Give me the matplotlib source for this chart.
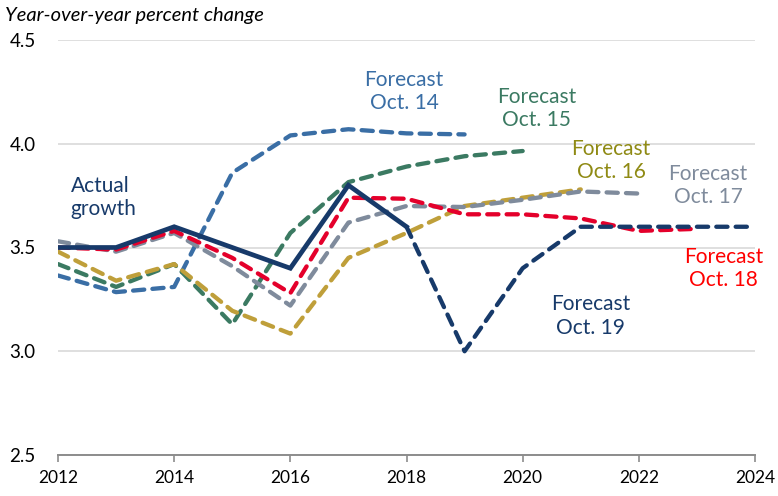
import matplotlib

matplotlib.use("Agg")
import matplotlib.pyplot as plt

matplotlib.rcParams.update(
    {
        "font.family": ["Lato", "DejaVu Sans"],
        "font.size": 11,
    }
)

# data
years_actual = [2012, 2013, 2014, 2015, 2016, 2017, 2018]
actual = [3.50, 3.50, 3.60, 3.50, 3.40, 3.80, 3.60]

years_oct14 = [2012, 2013, 2014, 2015, 2016, 2017, 2018, 2019]
oct14 = [3.365, 3.285, 3.31, 3.86, 4.04, 4.07, 4.05, 4.045]

years_oct15 = [2012, 2013, 2014, 2015, 2016, 2017, 2018, 2019, 2020]
oct15 = [3.42, 3.31, 3.42, 3.13, 3.57, 3.815, 3.89, 3.94, 3.965]

years_oct16 = [2012, 2013, 2014, 2015, 2016, 2017, 2018, 2019, 2020, 2021]
oct16 = [3.48, 3.34, 3.42, 3.195, 3.085, 3.45, 3.57, 3.70, 3.74, 3.78]

years_oct17 = [2012, 2013, 2014, 2015, 2016, 2017, 2018, 2019, 2020, 2021, 2022]
oct17 = [3.53, 3.48, 3.57, 3.41, 3.22, 3.62, 3.70, 3.695, 3.73, 3.77, 3.76]

years_oct18 = [2012, 2013, 2014, 2015, 2016, 2017, 2018, 2019, 2020, 2021, 2022, 2023]
oct18 = [3.50, 3.49, 3.58, 3.45, 3.28, 3.74, 3.735, 3.66, 3.66, 3.64, 3.58, 3.59]

years_oct19 = [2018, 2019, 2020, 2021, 2022, 2023, 2024]
oct19 = [3.60, 3.00, 3.40, 3.60, 3.60, 3.60, 3.60]

x_ticks = [2012, 2014, 2016, 2018, 2020, 2022, 2024]
y_ticks = [2.5, 3.0, 3.5, 4.0, 4.5]

NAVY = "#173a6a"
BLUE = "#3a6ea5"
GREEN = "#3b7a62"
GOLD = "#bf9f3a"
GRAY = "#7f8b9c"
RED = "#e4002b"

fig = plt.figure(figsize=(7.78, 4.96), dpi=100)
ax = fig.add_axes([58 / 778, 1 - 455 / 496, 697 / 778, 415 / 496])

dash = dict(lw=3.1, ls=(0, (2.6, 1.9)), dash_capstyle="round", solid_joinstyle="round")
ax.plot(years_oct14, oct14, color=BLUE, **dash)
ax.plot(years_oct15, oct15, color=GREEN, **dash)
ax.plot(years_oct16, oct16, color=GOLD, **dash)
ax.plot(years_oct17, oct17, color=GRAY, **dash)
ax.plot(years_oct18, oct18, color=RED, **dash)
ax.plot(years_oct19, oct19, color=NAVY, **dash)
ax.plot(years_actual, actual, color=NAVY, lw=3.4, solid_joinstyle="miter")

ax.set_xlim(2012, 2024)
ax.set_ylim(2.5, 4.5)
ax.set_xticks(x_ticks)
ax.set_yticks(y_ticks)
ax.set_yticklabels([f"{v:.1f}" for v in y_ticks])
ax.grid(axis="y", color="#d9d9d9", lw=1.2)
ax.set_axisbelow(True)
for s in ("top", "right", "left"):
    ax.spines[s].set_visible(False)
ax.spines["bottom"].set_color("#8c8c8c")
ax.spines["bottom"].set_linewidth(1.4)
ax.tick_params(axis="y", length=0, pad=16, labelsize=13.5)
ax.tick_params(axis="x", length=5, width=1.2, color="#8c8c8c", pad=6, labelsize=12.5)

fig.text(5 / 778, 1 - 15 / 496, "Year-over-year percent change", style="italic",
         fontsize=14.5, va="center", ha="left")

lab = dict(fontsize=15, ha="center", va="center", linespacing=1.2)
ax.text(2012.22, 3.74, "Actual\ngrowth", color=NAVY, fontsize=15, ha="left",
        va="center", linespacing=1.2)
ax.text(2017.96, 4.25, "Forecast\nOct. 14", color=BLUE, **lab)
ax.text(2020.24, 4.17, "Forecast\nOct. 15", color=GREEN, **lab)
ax.text(2021.52, 3.92, "Forecast\nOct. 16", color="#8f8a14", **lab)
ax.text(2023.19, 3.80, "Forecast\nOct. 17", color=GRAY, **lab)
ax.text(2023.46, 3.40, "Forecast\nOct. 18", color="#ff0000", **lab)
ax.text(2021.17, 3.17, "Forecast\nOct. 19", color=NAVY, **lab)

fig.savefig("out.png", dpi=100)
